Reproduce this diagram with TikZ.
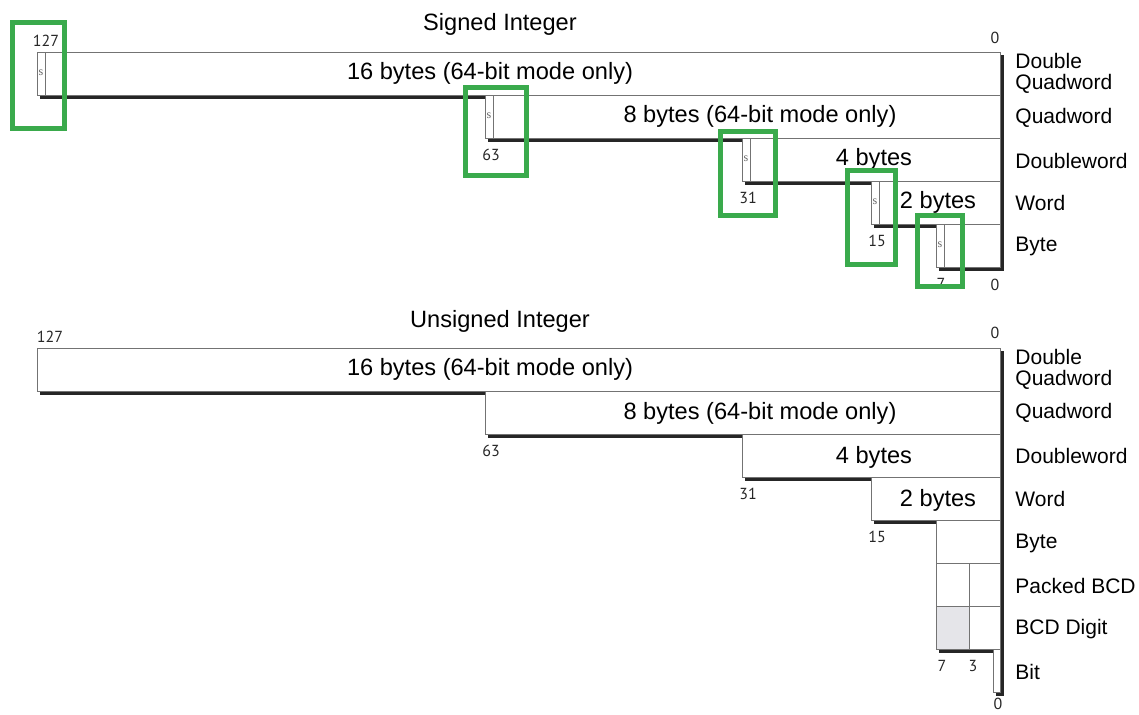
\documentclass[tikz,border=0pt]{standalone}
\usepackage{fontspec}
\setmainfont{Liberation Sans}
\newfontfamily\numfont{PT Sans}
\newfontfamily\signfont{Liberation Serif}
\usetikzlibrary{positioning}
\definecolor{markgreen}{RGB}{58,170,76}
\definecolor{digitgray}{RGB}{229,229,233}

\begin{document}
\begin{tikzpicture}[
    x=0.5pt, y=-0.5pt,
    field/.style={draw=black!55, line width=0.45pt, fill=white},
    dropline/.style={line width=1.7pt, draw=black!85},
    size/.style={inner sep=0pt, font=\fontsize{11.8}{13}\selectfont},
    kind/.style={inner sep=0pt, anchor=west, align=left, font=\fontsize{10.5}{10.5}\selectfont},
    bitno/.style={inner sep=0pt, font=\numfont\fontsize{8}{9}\selectfont, text=black!85},
    signbit/.style={inner sep=0pt, font=\signfont\fontsize{6}{6}\selectfont, text=black!60},
    highlight/.style={draw=markgreen, line width=2.5pt}
]
\useasboundingbox (0,0) rectangle (1139,714);

% signed integer
\node[size] (stitle) at (500,24) {Signed Integer};
\foreach \l/\t in {37/52,485/95,742/138,871/181,936/224}
  \draw[dropline] ({\l+3},{\t+45}) -- (1002.5,{\t+45}) -- (1002.5,{\t+3});
\foreach \l/\t in {37/52,485/95,742/138,871/181,936/224} {
  \draw[field] (\l,\t) rectangle (1000,{\t+43});
  \draw[field] (\l,\t) rectangle ({\l+8},{\t+43});
  \node[signbit] (s\l) at ({\l+4},{\t+21}) {s};
}
\node[size] (sdq) at (490,73) {16 bytes (64-bit mode only)};
\node[size] (sq) at (760,116) {8 bytes (64-bit mode only)};
\node[size] (sdw) at (874,159) {4 bytes};
\node[size] (sw) at (938,202) {2 bytes};

\node[bitno] (s127) at (46,41) {127};
\node[bitno] (s0top) at (995,38) {0};
\node[bitno] (s63) at (491,155) {63};
\node[bitno] (s31) at (748,198) {31};
\node[bitno] (s15) at (877,241) {15};
\node[bitno] (s7) at (941,284) {7};
\node[bitno] (s0) at (995,285) {0};

\node[kind] (kdq) at (1015,73) {Double\\Quadword};
\node[kind] (kq) at (1015,118) {Quadword};
\node[kind] (kdw) at (1015,161) {Doubleword};
\node[kind] (kw) at (1015,203) {Word};
\node[kind] (kb) at (1015,246) {Byte};

% unsigned integer
\node[size] (utitle) at (500,321) {Unsigned Integer};
\foreach \l/\t in {37/348,485/391,742/434,871/477,936/520,936/563,936/606,993/649}
  \draw[dropline] ({\l+3},{\t+45}) -- (1002.5,{\t+45}) -- (1002.5,{\t+3});
\foreach \l/\t in {37/348,485/391,742/434,871/477,936/520}
  \draw[field] (\l,\t) rectangle (1000,{\t+43});
\draw[field] (936,563) rectangle (969,606);
\draw[field] (969,563) rectangle (1000,606);
\draw[field, fill=digitgray] (936,606) rectangle (969,649);
\draw[field] (969,606) rectangle (1000,649);
\draw[field] (993,649) rectangle (1000,692);

\node[size] (udq) at (490,369) {16 bytes (64-bit mode only)};
\node[size] (uq) at (760,413) {8 bytes (64-bit mode only)};
\node[size] (udw) at (874,457) {4 bytes};
\node[size] (uw) at (938,500) {2 bytes};

\node[bitno] (u127) at (50,337) {127};
\node[bitno] (u0top) at (995,333) {0};
\node[bitno] (u63) at (491,451) {63};
\node[bitno] (u31) at (748,494) {31};
\node[bitno] (u15) at (877,537) {15};
\node[bitno] (u7) at (942,666) {7};
\node[bitno] (u3) at (973,666) {3};
\node[bitno] (u0) at (998,704) {0};

\node[kind] (ldq) at (1015,369) {Double\\Quadword};
\node[kind] (lq) at (1015,413) {Quadword};
\node[kind] (ldw) at (1015,456) {Doubleword};
\node[kind] (lw) at (1015,499) {Word};
\node[kind] (lb) at (1015,543) {Byte};
\node[kind] (lpbcd) at (1015,586) {Packed BCD};
\node[kind] (lbcd) at (1015,629) {BCD Digit};
\node[kind] (lbit) at (1015,672) {Bit};

% green marks round the sign bits
\draw[highlight] (12,22) rectangle (64,128);
\draw[highlight] (465,87) rectangle (526,175);
\draw[highlight] (720,131) rectangle (775,215);
\draw[highlight] (847,170) rectangle (895,264);
\draw[highlight] (917,215) rectangle (962,286);
\end{tikzpicture}
\end{document}
